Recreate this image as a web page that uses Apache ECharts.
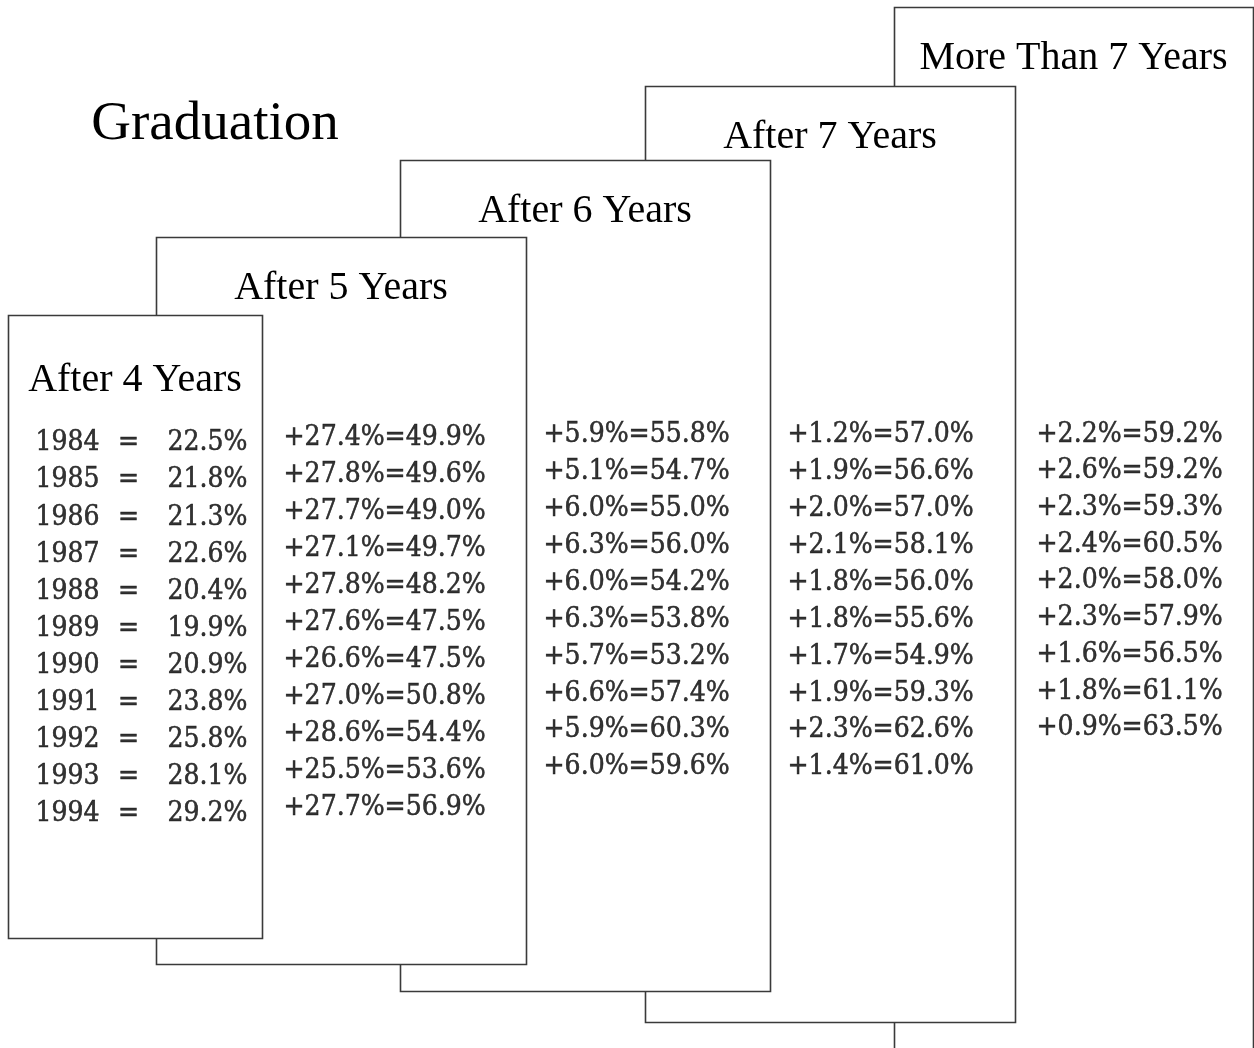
<!DOCTYPE html>
<html>
<head>
<meta charset="utf-8">
<script src="https://cdn.jsdelivr.net/npm/echarts@6/dist/echarts.min.js"></script>
<style>
html,body{margin:0;padding:0;background:#fff;}
#chart{width:1254px;height:1048px;}
</style>
</head>
<body>
<div id="chart"></div>
<script>
// ---------- data ----------
const chartTitle = 'Graduation';
const headers = ['After 4 Years', 'After 5 Years', 'After 6 Years', 'After 7 Years', 'More Than 7 Years'];
const years = ['1984','1985','1986','1987','1988','1989','1990','1991','1992','1993','1994'];
const after4 = [22.5, 21.8, 21.3, 22.6, 20.4, 19.9, 20.9, 23.8, 25.8, 28.1, 29.2];
const gain5  = [27.4, 27.8, 27.7, 27.1, 27.8, 27.6, 26.6, 27.0, 28.6, 25.5, 27.7];
const total5 = [49.9, 49.6, 49.0, 49.7, 48.2, 47.5, 47.5, 50.8, 54.4, 53.6, 56.9];
const gain6  = [5.9, 5.1, 6.0, 6.3, 6.0, 6.3, 5.7, 6.6, 5.9, 6.0];
const total6 = [55.8, 54.7, 55.0, 56.0, 54.2, 53.8, 53.2, 57.4, 60.3, 59.6];
const gain7  = [1.2, 1.9, 2.0, 2.1, 1.8, 1.8, 1.7, 1.9, 2.3, 1.4];
const total7 = [57.0, 56.6, 57.0, 58.1, 56.0, 55.6, 54.9, 59.3, 62.6, 61.0];
const gainMore  = [2.2, 2.6, 2.3, 2.4, 2.0, 2.3, 1.6, 1.8, 0.9];
const totalMore = [59.2, 59.2, 59.3, 60.5, 58.0, 57.9, 56.5, 61.1, 63.5];

// ---------- layout (styles/positions only) ----------
const BODY_FONT = '"DejaVu Serif Condensed", "DejaVu Serif"';
const BODY_SIZE = 28;
const HEAD_FONT = 'Liberation Serif';
const cards = [
  {x: 8,   y: 315, w: 254, h: 623, head: 65},
  {x: 156, y: 237, w: 370, h: 727, head: 51},
  {x: 400, y: 160, w: 370, h: 831, head: 51},
  {x: 645, y: 86,  w: 370, h: 936, head: 51},
  {x: 894, y: 7,   w: 359, h: 1100, head: 51}
];
const columnGrids = [
  {left: 35,   top: 424.5, rowH: 37.1},
  {left: 283,  top: 419, rowH: 37.0},
  {left: 543,  top: 416.5, rowH: 36.9},
  {left: 787,  top: 416.5, rowH: 36.9},
  {left: 1036, top: 416,   rowH: 36.7}
];

const fmt = v => v.toFixed(1);
const columns = [
  {type: 'base', values: after4},
  {type: 'gain', gain: gain5, total: total5},
  {type: 'gain', gain: gain6, total: total6},
  {type: 'gain', gain: gain7, total: total7},
  {type: 'gain', gain: gainMore, total: totalMore}
];

const txt = {fontFamily: BODY_FONT, fontSize: BODY_SIZE, color: '#000', textBorderColor: '#000', textBorderWidth: 0.5};
const grids = [], xAxes = [], yAxes = [], series = [];
columns.forEach((col, ci) => {
  const g = columnGrids[ci];
  grids.push({left: g.left, top: g.top, width: 100, height: g.rowH * years.length});
  xAxes.push({type: 'value', gridIndex: ci, min: 0, max: 1, show: false});
  yAxes.push({type: 'category', gridIndex: ci, data: years, inverse: true, show: false});
  let data, formatter, rich;
  if (col.type === 'base') {
    data = col.values.map((v, i) => [0, years[i], v]);
    formatter = p => `{y|${p.value[1]}}{e|=}{v|${fmt(p.value[2])}%}`;
    rich = {
      y: Object.assign({width: 78, align: 'left'}, txt),
      e: Object.assign({width: 30, align: 'center'}, txt),
      v: Object.assign({width: 104, align: 'right'}, txt)
    };
  } else {
    data = col.gain.map((v, i) => [0, years[i], v, col.total[i]]);
    formatter = p => `+${fmt(p.value[2])}%=${fmt(p.value[3])}%`;
  }
  series.push({
    type: 'scatter',
    xAxisIndex: ci, yAxisIndex: ci,
    data: data,
    z: 20,
    silent: true,
    symbolSize: 1,
    itemStyle: {color: 'rgba(0,0,0,0)'},
    label: Object.assign({
      show: true, position: 'right', distance: 0,
      formatter: formatter,
      rich: rich
    }, txt)
  });
});

const graphic = [];
// cards from back (last) to front (first)
for (let i = cards.length - 1; i >= 0; i--) {
  const c = cards[i];
  const z = 1 + (cards.length - i);
  graphic.push({
    type: 'rect', z: z,
    shape: {x: c.x + 0.5, y: c.y + 0.5, width: c.w, height: c.h},
    style: {fill: '#fff', stroke: '#3a3a3a', lineWidth: 1.6}
  });
  graphic.push({
    type: 'text', z: z,
    x: c.x + c.w / 2, y: c.y + c.head,
    style: {text: headers[i], fill: '#000', font: `40px "${HEAD_FONT}"`, textAlign: 'center', textVerticalAlign: 'middle'}
  });
}
graphic.push({
  type: 'text', z: 8,
  x: 215, y: 125,
  style: {text: chartTitle, fill: '#000', font: `55px "${HEAD_FONT}"`, textAlign: 'center', textVerticalAlign: 'middle'}
});

const chart = echarts.init(document.getElementById('chart'), null, {renderer: 'canvas'});
chart.setOption({
  backgroundColor: '#fff',
  animation: false,
  grid: grids,
  xAxis: xAxes,
  yAxis: yAxes,
  graphic: graphic,
  series: series
});
</script>
</body>
</html>
